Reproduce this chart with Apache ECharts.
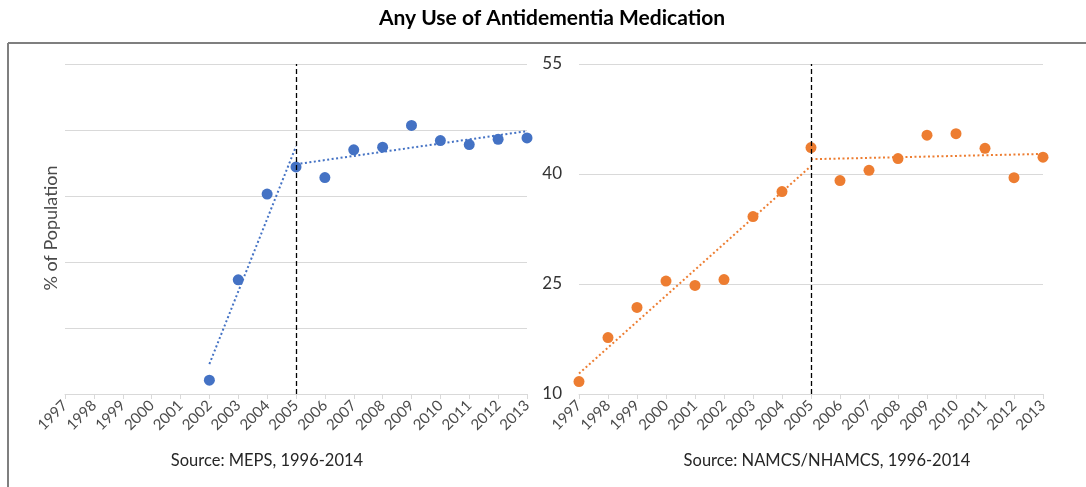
<!DOCTYPE html>
<html><head><meta charset="utf-8">
<script src="https://cdn.jsdelivr.net/npm/echarts@6/dist/echarts.min.js"></script>
<style>html,body{margin:0;padding:0;background:#fff}#c{width:1086px;height:487px}</style>
</head><body><div id="c"></div>
<script>
// ---- data ----
const years = ['1997','1998','1999','2000','2001','2002','2003','2004','2005','2006','2007','2008','2009','2010','2011','2012','2013'];
const mepsYears = ['2002','2003','2004','2005','2006','2007','2008','2009','2010','2011','2012','2013'];
const mepsValues = [0.21, 1.73, 3.03, 3.44, 3.28, 3.70, 3.74, 4.07, 3.84, 3.78, 3.86, 3.88];
const namcsYears = years;
const namcsValues = [11.7, 17.7, 21.8, 25.4, 24.8, 25.6, 34.2, 37.6, 43.6, 39.1, 40.5, 42.1, 45.3, 45.5, 43.5, 39.5, 42.3];
const breakYear = '2005';
const leftAxisRange = [0, 5, 1];
const rightAxisRange = [10, 55, 15];
const title = 'Any Use of Antidementia Medication';
const leftSource = 'Source: MEPS, 1996-2014';
const rightSource = 'Source: NAMCS/NHAMCS, 1996-2014';
const yName = '% of Population';

// ---- linear trend (least squares) over a segment ----
function trend(ys, vs, from, to) {
  const xs = [], v = [];
  ys.forEach((y, i) => { const n = +y; if (n >= +from && n <= +to) { xs.push(n); v.push(vs[i]); } });
  const n = xs.length;
  const mx = xs.reduce((a, b) => a + b, 0) / n, mv = v.reduce((a, b) => a + b, 0) / n;
  let sxy = 0, sxx = 0;
  xs.forEach((x, i) => { sxy += (x - mx) * (v[i] - mv); sxx += (x - mx) * (x - mx); });
  const s = sxy / sxx;
  return [[String(xs[0]), mv + s * (xs[0] - mx)], [String(xs[n - 1]), mv + s * (xs[n - 1] - mx)]];
}

const BLUE = '#4472C4', ORANGE = '#ED7D31', GRID = '#d9d9d9', TXT = '#4a4a4a';
const FONT = 'Lato, "Open Sans", sans-serif';

function xAxis(idx) {
  return {
    type: 'category', gridIndex: idx, data: years, boundaryGap: false,
    axisLine: { lineStyle: { color: GRID, width: 1 } },
    axisTick: { show: true, length: 5, lineStyle: { color: GRID } },
    axisLabel: { rotate: 45, color: TXT, fontSize: 15, fontFamily: FONT, margin: 9, interval: 0 },
    splitLine: { show: false }
  };
}

const dashLine = {
  silent: true, symbol: 'none', label: { show: false },
  lineStyle: { color: '#000', type: [5, 3], width: 1.3 },
  data: [{ xAxis: breakYear }]
};
const dotted = (c) => ({ color: c, width: 2, type: [2, 2.5] });

const option = {
  animation: false,
  backgroundColor: '#fff',
  grid: [
    { left: 65, top: 64, width: 462, height: 330 },
    { left: 579, top: 64, width: 464, height: 330 }
  ],
  xAxis: [xAxis(0), xAxis(1)],
  yAxis: [
    { type: 'value', gridIndex: 0, min: leftAxisRange[0], max: leftAxisRange[1], interval: leftAxisRange[2],
      axisLine: { show: false }, axisTick: { show: false }, axisLabel: { show: false },
      splitLine: { lineStyle: { color: GRID, width: 1 } } },
    { type: 'value', gridIndex: 1, min: rightAxisRange[0], max: rightAxisRange[1], interval: rightAxisRange[2],
      axisLine: { show: false }, axisTick: { show: false },
      axisLabel: { color: '#333', fontSize: 17, fontFamily: FONT, margin: 17 },
      splitLine: { lineStyle: { color: GRID, width: 1 } } }
  ],
  series: [
    { type: 'line', xAxisIndex: 0, yAxisIndex: 0, data: trend(mepsYears, mepsValues, '2002', '2005'),
      symbol: 'none', lineStyle: dotted(BLUE), z: 2, markLine: dashLine },
    { type: 'line', xAxisIndex: 0, yAxisIndex: 0, data: trend(mepsYears, mepsValues, '2005', '2013'),
      symbol: 'none', lineStyle: dotted(BLUE), z: 2 },
    { type: 'scatter', xAxisIndex: 0, yAxisIndex: 0, data: mepsYears.map((y, i) => [y, mepsValues[i]]),
      symbolSize: 11, itemStyle: { color: BLUE, opacity: 1 }, z: 3 },
    { type: 'line', xAxisIndex: 1, yAxisIndex: 1, data: trend(namcsYears, namcsValues, '1997', '2005'),
      symbol: 'none', lineStyle: dotted(ORANGE), z: 2, markLine: dashLine },
    { type: 'line', xAxisIndex: 1, yAxisIndex: 1, data: trend(namcsYears, namcsValues, '2005', '2013'),
      symbol: 'none', lineStyle: dotted(ORANGE), z: 2 },
    { type: 'scatter', xAxisIndex: 1, yAxisIndex: 1, data: namcsYears.map((y, i) => [y, namcsValues[i]]),
      symbolSize: 11, itemStyle: { color: ORANGE, opacity: 1 }, z: 3 }
  ],
  graphic: [
    { type: 'line', shape: { x1: 8, y1: 43, x2: 1086, y2: 43 }, style: { stroke: '#7f7f7f', lineWidth: 2 }, z: 10 },
    { type: 'line', shape: { x1: 8, y1: 43, x2: 8, y2: 487 }, style: { stroke: '#7f7f7f', lineWidth: 2 }, z: 10 },
    { type: 'text', x: 552, y: 18, style: { text: title, fontFamily: FONT, fontWeight: 'bold', fontSize: 21,
      fill: '#000', textAlign: 'center', textVerticalAlign: 'middle' } },
    { type: 'text', x: 51, y: 228, rotation: Math.PI / 2, style: { text: yName, fontFamily: FONT, fontSize: 18,
      fill: TXT, textAlign: 'center', textVerticalAlign: 'middle' } },
    { type: 'text', x: 267, y: 461, style: { text: leftSource, fontFamily: FONT, fontSize: 16.5,
      fill: '#262626', textAlign: 'center', textVerticalAlign: 'middle' } },
    { type: 'text', x: 827, y: 461, style: { text: rightSource, fontFamily: FONT, fontSize: 16.5,
      fill: '#262626', textAlign: 'center', textVerticalAlign: 'middle' } }
  ]
};
echarts.init(document.getElementById('c'), null, { renderer: 'canvas' }).setOption(option);
</script>
</body></html>
